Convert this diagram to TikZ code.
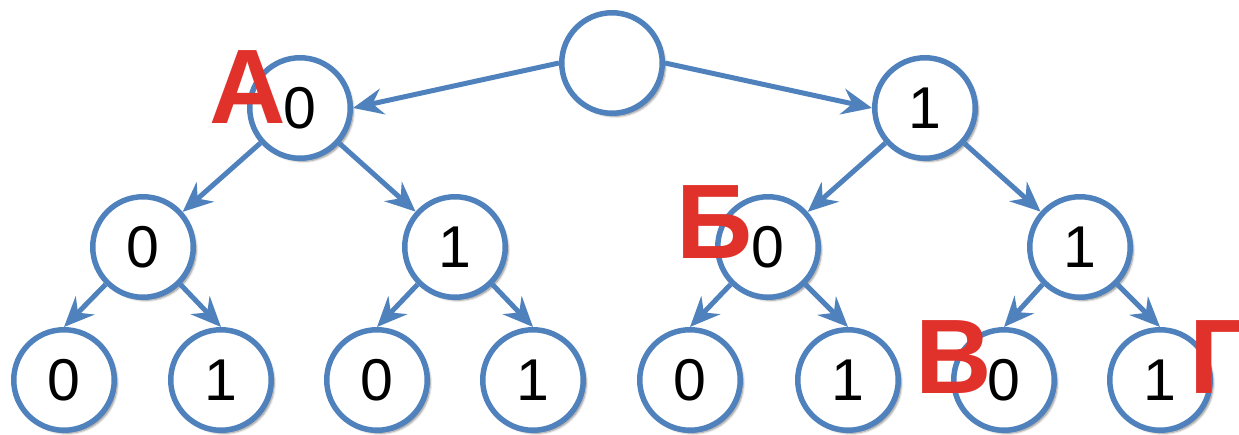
\documentclass[tikz,border=0pt]{standalone}
\usepackage{fontspec}
\setmainfont{Liberation Sans}
\usetikzlibrary{arrows.meta,shadows.blur}
\newlength{\du}
\setlength{\du}{1pt}
\definecolor{bitlinecolor}{rgb}{0.310000, 0.506000, 0.741000}
\definecolor{taglinecolor}{rgb}{0.878000, 0.192000, 0.169000}
\tikzset{
  bit/.style={circle, draw=bitlinecolor, line width=5.500000\du, fill=white,
    minimum size=100.500000\du, inner sep=0pt,
    font=\fontsize{59}{59}\selectfont,
    blur shadow={shadow xshift=3pt, shadow yshift=-3pt, shadow blur steps=6, shadow opacity=45}},
  link/.style={draw=bitlinecolor, line width=5.000000\du,
    -{Stealth[length=30pt, width=26pt, inset=10pt]}},
  tag/.style={text=taglinecolor, inner sep=0pt, anchor=base west,
    font=\fontsize{106}{106}\selectfont\bfseries}
}
\begin{document}
\begin{tikzpicture}[x=\du, y=-\du]
\useasboundingbox (0,0) rectangle (1239,434);
% root
\node[bit] (root) at (612.000000,63.000000) {};
% first level
\node[bit] (n0) at (300.000000,108.000000) {0};
\node[bit] (n1) at (925.000000,108.000000) {1};
% second level
\node[bit] (n00) at (143.000000,247.000000) {0};
\node[bit] (n01) at (455.000000,247.000000) {1};
\node[bit] (n10) at (768.000000,247.000000) {0};
\node[bit] (n11) at (1080.000000,247.000000) {1};
% third level
\node[bit] (n000) at (64.000000,380.000000) {0};
\node[bit] (n001) at (221.000000,380.000000) {1};
\node[bit] (n010) at (377.000000,380.000000) {0};
\node[bit] (n011) at (533.000000,380.000000) {1};
\node[bit] (n100) at (690.000000,380.000000) {0};
\node[bit] (n101) at (848.000000,380.000000) {1};
\node[bit] (n110) at (1004.000000,380.000000) {0};
\node[bit] (n111) at (1160.000000,380.000000) {1};
% was here!!!
\draw[link] (root.west)--(n0.east);
\draw[link] (root.east)--(n1.west);
\draw[link] (n0)--(n00);
\draw[link] (n0)--(n01);
\draw[link] (n1)--(n10);
\draw[link] (n1)--(n11);
\draw[link] (n00.south west)--(n000.north);
\draw[link] (n00.south east)--(n001.north);
\draw[link] (n01.south west)--(n010.north);
\draw[link] (n01.south east)--(n011.north);
\draw[link] (n10.south west)--(n100.north);
\draw[link] (n10.south east)--(n101.north);
\draw[link] (n11.south west)--(n110.north);
\draw[link] (n11.south east)--(n111.north);
% setfont left to latex
\node[tag] (tagA) at (209.000000,123.000000) {А};
\node[tag] (tagB) at (676.000000,258.000000) {Б};
\node[tag] (tagV) at (915.000000,393.000000) {В};
\node[tag] (tagG) at (1189.000000,393.000000) {Г};
\end{tikzpicture}
\end{document}
